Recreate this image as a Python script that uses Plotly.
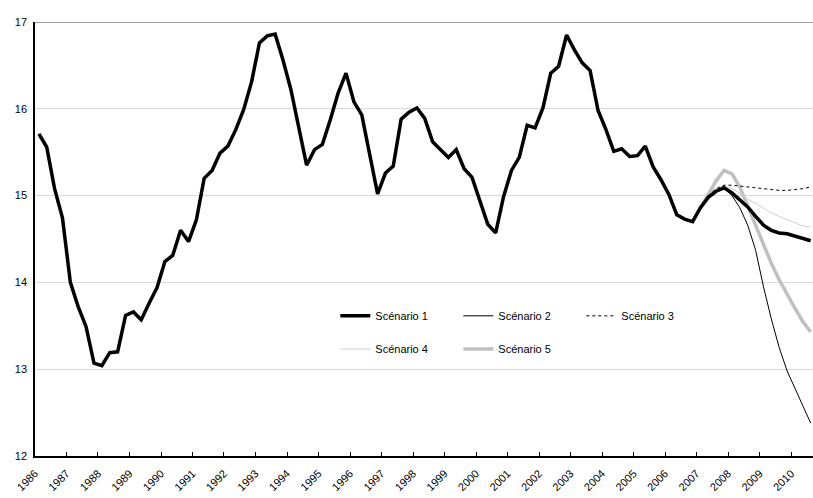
import pandas as pd
import plotly.graph_objects as go

# Quarterly periods 1986Q1 .. 2010Q3
quarters = [str(p) for p in pd.period_range("1986Q1", "2010Q3", freq="Q")]

scenario1 = [
    15.71, 15.56, 15.08, 14.74, 14.00, 13.72, 13.49, 13.07, 13.04, 13.19,
    13.20, 13.62, 13.66, 13.57, 13.76, 13.94, 14.24, 14.31, 14.60, 14.47,
    14.72, 15.20, 15.29, 15.49, 15.57, 15.76, 15.99, 16.31, 16.76, 16.84,
    16.86, 16.56, 16.22, 15.79, 15.35, 15.53, 15.59, 15.87, 16.18, 16.41,
    16.08, 15.93, 15.47, 15.02, 15.26, 15.34, 15.88, 15.96, 16.01, 15.89,
    15.62, 15.53, 15.44, 15.53, 15.31, 15.21, 14.95, 14.67, 14.57, 14.99,
    15.29, 15.44, 15.81, 15.78, 16.01, 16.41, 16.49, 16.85, 16.68, 16.53,
    16.44, 15.98, 15.76, 15.51, 15.54, 15.45, 15.46, 15.57, 15.33, 15.18,
    15.01, 14.78, 14.73, 14.70, 14.86, 14.98, 15.05, 15.09, 15.03, 14.95,
    14.87, 14.76, 14.66, 14.60, 14.57, 14.56, 14.53, 14.50, 14.48,
]

# Alternative scenarios start at 2006Q4
scen_start = "2006Q4"
scenario2 = [14.70, 14.85, 14.97, 15.05, 15.09, 15.00, 14.86, 14.66,
             14.37, 13.95, 13.58, 13.25, 12.98, 12.78, 12.58, 12.38]
scenario3 = [14.70, 14.86, 15.00, 15.08, 15.12, 15.12, 15.11, 15.10,
             15.09, 15.08, 15.07, 15.06, 15.06, 15.07, 15.08, 15.10]
scenario4 = [14.70, 14.86, 15.00, 15.08, 15.12, 15.08, 15.03, 14.96,
             14.91, 14.85, 14.80, 14.76, 14.72, 14.68, 14.65, 14.64]
scenario5 = [14.70, 14.86, 15.02, 15.17, 15.29, 15.25, 15.10, 14.88,
             14.65, 14.42, 14.22, 14.03, 13.86, 13.70, 13.55, 13.43]

year_ticks = list(range(1986, 2011))


def mid_quarter(q):
    p = pd.Period(q, freq="Q")
    return p.start_time + (p.end_time - p.start_time) / 2


x_all = [mid_quarter(q) for q in quarters]
k0 = quarters.index(scen_start)
x_scen = x_all[k0:]

FONT = "Liberation Sans, Arial, sans-serif"

fig = go.Figure()

fig.add_trace(go.Scatter(x=x_scen, y=scenario5, mode="lines", name="Scénario 5",
                         line=dict(color="#c0c0c0", width=3.5), legend="legend2",
                         legendrank=5))
fig.add_trace(go.Scatter(x=x_scen, y=scenario4, mode="lines", name="Scénario 4",
                         line=dict(color="#cfcfcf", width=1), legend="legend2",
                         legendrank=4))
fig.add_trace(go.Scatter(x=x_scen, y=scenario3, mode="lines", name="Scénario 3",
                         line=dict(color="#000000", width=1, dash="dot"),
                         legend="legend", legendrank=3))
fig.add_trace(go.Scatter(x=x_scen, y=scenario2, mode="lines", name="Scénario 2",
                         line=dict(color="#000000", width=1), legend="legend",
                         legendrank=2))
fig.add_trace(go.Scatter(x=x_all, y=scenario1, mode="lines", name="Scénario 1",
                         line=dict(color="#000000", width=3.5), legend="legend",
                         legendrank=1))

legend_common = dict(
    orientation="h", xanchor="left", yanchor="middle",
    bgcolor="rgba(0,0,0,0)", font=dict(family=FONT, size=11, color="#000"),
    entrywidth=78, entrywidthmode="pixels", itemclick=False,
)

fig.update_layout(
    width=813, height=498,
    margin=dict(l=35, r=0, t=22, b=42),
    paper_bgcolor="white", plot_bgcolor="white",
    font=dict(family=FONT, size=11, color="#000"),
    showlegend=True,
    legend=dict(x=0.386, y=0.323, **legend_common),
    legend2=dict(x=0.386, y=0.2465, **legend_common),
    xaxis=dict(
        type="date", automargin=False,
        range=[pd.Timestamp("1986-01-01"), pd.Timestamp("2010-09-12")],
        tickvals=[pd.Timestamp(f"{y}-01-01") for y in year_ticks],
        ticktext=[str(y) for y in year_ticks],
        tickangle=-45, ticks="inside", ticklen=4, tickwidth=1, tickcolor="#000",
        ticklabelstandoff=5,
        showgrid=False, showline=True, linecolor="#000", linewidth=1.5,
        zeroline=False, tickfont=dict(family=FONT, size=11, color="#000"),
    ),
    yaxis=dict(
        range=[12, 17], dtick=1, tick0=12, automargin=False,
        showgrid=True, gridcolor="#d9d9d9", gridwidth=1,
        showline=True, linecolor="#000", linewidth=1.5, zeroline=False,
        ticks="", ticklabelstandoff=4,
        tickfont=dict(family=FONT, size=11, color="#000"),
    ),
    shapes=[dict(type="line", xref="paper", yref="y", x0=0, x1=1, y0=17, y1=17,
                 line=dict(color="#808080", width=1.5))],
)

fig.write_html(
    "out.html",
    config={"displayModeBar": False},
    post_script="document.body.style.margin='0';document.body.style.overflow='hidden';",
)
